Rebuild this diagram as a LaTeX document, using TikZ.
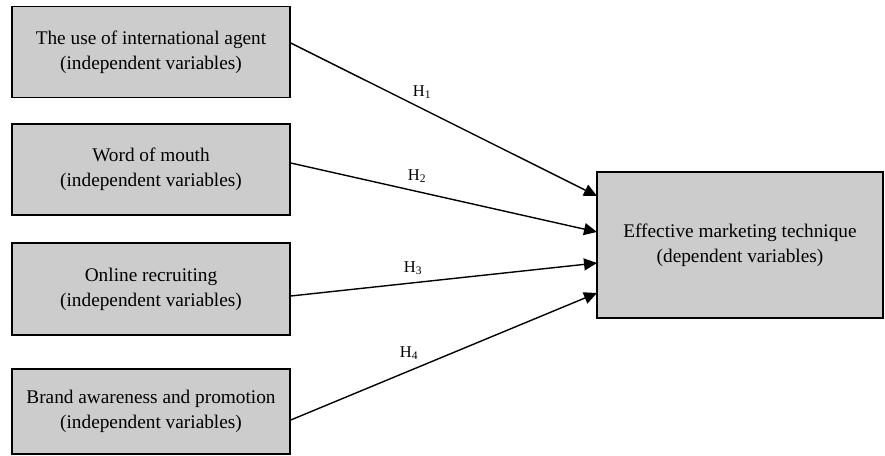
\documentclass[tikz,border=0pt]{standalone}
\usepackage{fontspec}
\setmainfont{Liberation Serif}
\usetikzlibrary{arrows.meta}
\definecolor{boxgray}{HTML}{CCCCCC}
\begin{document}
\begin{tikzpicture}[x=1pt,y=-1pt,
  varbox/.style={draw=black, line width=1.5pt, fill=boxgray, inner sep=0pt, align=center,
    font=\fontsize{19.3}{25}\selectfont},
  link/.style={line width=1.4pt, -{Triangle[length=13pt,width=12pt]}},
  hlabel/.style={font=\fontsize{16.5}{18}\selectfont, inner sep=0pt}]
\useasboundingbox (0,0) rectangle (885,455);
\node[varbox, minimum width=278pt, minimum height=91pt] (a) at (151,52) {The use of international agent\\(independent variables)};
\node[varbox, minimum width=278pt, minimum height=91pt] (b) at (151,169.5) {Word of mouth\\(independent variables)};
\node[varbox, minimum width=278pt, minimum height=92pt] (c) at (151,289) {Online recruiting\\(independent variables)};
\node[varbox, minimum width=278pt, minimum height=85pt] (d) at (151,411.5) {Brand awareness and promotion\\(independent variables)};
\node[varbox, minimum width=286pt, minimum height=146pt] (e) at (740,245) {Effective marketing technique\\(dependent variables)};
\coordinate (ta) at (597,196);
\coordinate (tb) at (597,232);
\coordinate (tc) at (597,263);
\coordinate (td) at (597,293);
\draw[link] (a.east |- 0,43) -- (ta);
\draw[link] (b.east |- 0,163) -- (tb);
\draw[link] (c.east |- 0,296) -- (tc);
\draw[link] (d.east |- 0,420) -- (td);
\node[hlabel] (h1) at (422,92) {H\textsubscript{1}};
\node[hlabel] (h2) at (417,176) {H\textsubscript{2}};
\node[hlabel] (h3) at (413,268) {H\textsubscript{3}};
\node[hlabel] (h4) at (409,353) {H\textsubscript{4}};
\end{tikzpicture}
\end{document}
